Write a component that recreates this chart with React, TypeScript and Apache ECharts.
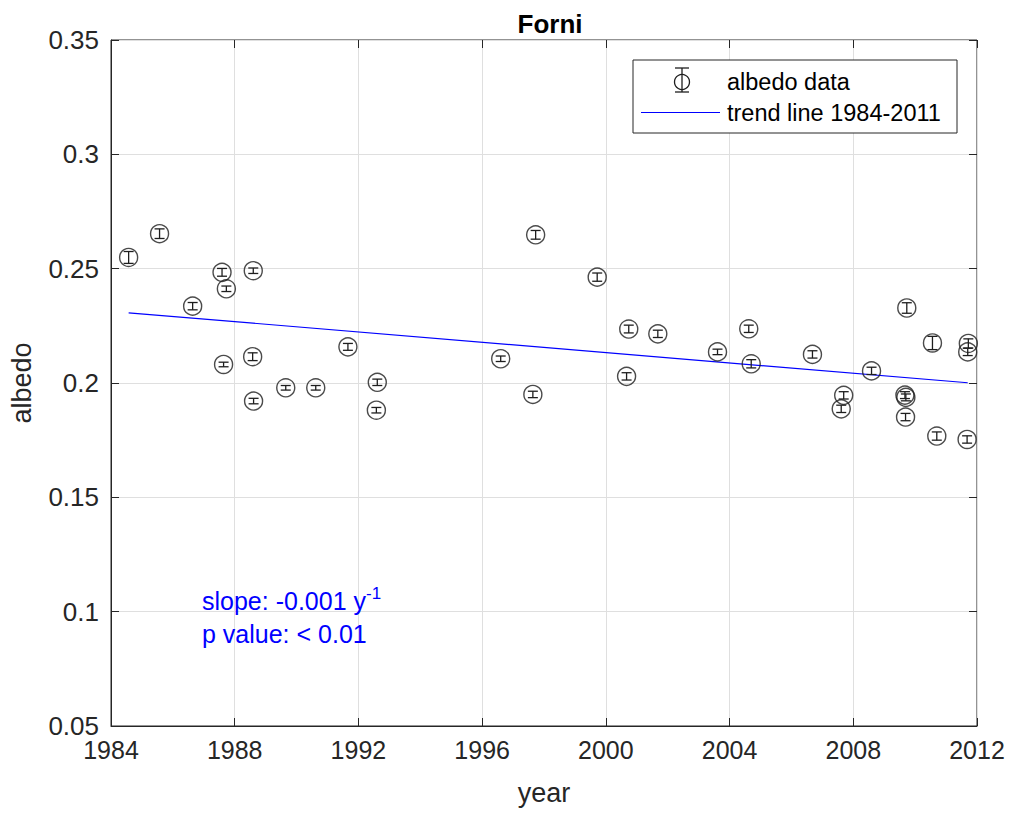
import React, { useEffect, useRef } from "react";
import * as echarts from "echarts";

// Albedo observations for the Forni glacier (decimal year, albedo, error half-width)
const years = [
  1984.57, 1985.57, 1986.64, 1987.59, 1987.73, 1988.6, 1987.64, 1988.58, 1988.61,
  1989.65, 1990.62, 1991.66, 1992.61, 1992.58, 1997.73, 1996.6, 1997.64, 1999.72,
  2000.74, 2000.67, 2001.68, 2003.61, 2004.62, 2004.7, 2006.68, 2007.69, 2007.61,
  2008.59, 2009.73, 2009.67, 2009.7, 2009.69, 2010.56, 2010.7, 2011.72, 2011.7, 2011.68,
];
const albedo = [
  0.2549, 0.2653, 0.2336, 0.2484, 0.2412, 0.2491, 0.2081, 0.2115, 0.1921,
  0.1979, 0.1979, 0.2158, 0.2003, 0.1881, 0.2648, 0.2106, 0.195, 0.2463,
  0.2236, 0.2029, 0.2215, 0.2136, 0.2237, 0.2084, 0.2125, 0.1946, 0.1887,
  0.2053, 0.2328, 0.1947, 0.1937, 0.1851, 0.2175, 0.1768, 0.2173, 0.2136, 0.1753,
];
const errors = [
  0.0026, 0.0021, 0.0016, 0.0017, 0.0012, 0.0012, 0.001, 0.0017, 0.0012,
  0.001, 0.001, 0.0015, 0.0014, 0.0012, 0.0019, 0.0012, 0.0014, 0.0018,
  0.0017, 0.0016, 0.0016, 0.0012, 0.0016, 0.0018, 0.0016, 0.0016, 0.0016,
  0.0016, 0.0023, 0.0015, 0.0015, 0.0016, 0.0029, 0.0018, 0.002, 0.0016, 0.0016,
];

// Linear trend 1984-2011 (end points)
const trendYears = [1984.57, 2011.7];
const trendValues = [0.2307, 0.2001];

const xTicks = { min: 1984, max: 2012, interval: 4 };
const yTicks = { min: 0.05, max: 0.35, interval: 0.05 };

const FONT = "'Liberation Sans', Arial, Helvetica, sans-serif";
const TEXT = "#262626";
const GRID = "#dfdfdf";
const MARK = "#1e1e1e";
const BLUE = "#0000ff";

export default function App() {
  const ref = useRef<HTMLDivElement>(null);

  useEffect(() => {
    document.body.style.margin = "0";
    if (!ref.current) return;
    const chart = echarts.init(ref.current, undefined, { renderer: "svg" });

    const points = years.map((y, i) => [y, albedo[i]]);
    const bars = years.map((y, i) => [y, albedo[i], errors[i]]);
    const trend = trendYears.map((y, i) => [y, trendValues[i]]);

    const hiddenAxis = {
      axisLabel: { show: false },
      splitLine: { show: false },
      axisLine: { show: false },
      axisTick: { show: true, inside: true, length: 8, lineStyle: { color: TEXT } },
    };

    chart.setOption({
      animation: false,
      title: {
        text: "Forni",
        left: 545,
        top: 6,
        textAlign: "center",
        textStyle: { fontFamily: FONT, fontSize: 26, fontWeight: "bold", color: "#000" },
      },
      grid: {
        left: 110,
        right: 34,
        top: 40,
        bottom: 88,
        show: true,
        borderColor: TEXT,
        borderWidth: 1,
        backgroundColor: "#fff",
      },
      xAxis: [
        {
          type: "value",
          ...xTicks,
          name: "year",
          nameLocation: "middle",
          nameGap: 53,
          nameTextStyle: { fontFamily: FONT, fontSize: 27, color: TEXT },
          axisLine: { show: true, lineStyle: { color: TEXT } },
          axisTick: { show: true, inside: true, length: 8, lineStyle: { color: TEXT } },
          axisLabel: {
            fontFamily: FONT,
            fontSize: 25,
            color: TEXT,
            margin: 11,
            formatter: (v: number) => String(v),
          },
          splitLine: { show: true, lineStyle: { color: GRID, width: 1 } },
        },
        { type: "value", ...xTicks, position: "top", ...hiddenAxis },
      ],
      yAxis: [
        {
          type: "value",
          ...yTicks,
          name: "albedo",
          nameLocation: "middle",
          nameGap: 76,
          nameTextStyle: { fontFamily: FONT, fontSize: 27, color: TEXT },
          axisLine: { show: true, lineStyle: { color: TEXT } },
          axisTick: { show: true, inside: true, length: 8, lineStyle: { color: TEXT } },
          axisLabel: {
            fontFamily: FONT,
            fontSize: 26,
            color: TEXT,
            margin: 12,
            formatter: (v: number) => String(+v.toFixed(2)),
          },
          splitLine: { show: true, lineStyle: { color: GRID, width: 1 } },
        },
        { type: "value", ...yTicks, position: "right", ...hiddenAxis },
      ],
      series: [
        {
          type: "line",
          data: trend,
          showSymbol: false,
          lineStyle: { color: BLUE, width: 1.2 },
          z: 3,
        },
        {
          type: "custom",
          data: bars,
          renderItem: (params: any, api: any) => {
            const x = api.value(0);
            const y = api.value(1);
            const e = api.value(2);
            const lo = api.coord([x, y - e]);
            const hi = api.coord([x, y + e]);
            const cap = 5;
            const style = { stroke: MARK, lineWidth: 1.3 };
            return {
              type: "group",
              children: [
                { type: "line", shape: { x1: lo[0], y1: lo[1], x2: hi[0], y2: hi[1] }, style },
                { type: "line", shape: { x1: lo[0] - cap, y1: lo[1], x2: lo[0] + cap, y2: lo[1] }, style },
                { type: "line", shape: { x1: hi[0] - cap, y1: hi[1], x2: hi[0] + cap, y2: hi[1] }, style },
              ],
            };
          },
          z: 4,
        },
        {
          type: "scatter",
          data: points,
          symbol: "circle",
          symbolSize: 18,
          itemStyle: { color: "rgba(0,0,0,0)", borderColor: MARK, borderWidth: 1.4 },
          z: 5,
        },
      ],
      graphic: [
        // legend box
        {
          type: "rect",
          shape: { x: 633, y: 60, width: 324, height: 73 },
          style: { fill: "#fff", stroke: TEXT, lineWidth: 1 },
          z: 20,
        },
        { type: "circle", shape: { cx: 682, cy: 82, r: 7.5 }, style: { fill: "none", stroke: MARK, lineWidth: 1.3 }, z: 21 },
        { type: "line", shape: { x1: 682, y1: 68, x2: 682, y2: 92 }, style: { stroke: MARK, lineWidth: 1.3 }, z: 21 },
        { type: "line", shape: { x1: 675, y1: 68, x2: 689, y2: 68 }, style: { stroke: MARK, lineWidth: 1.3 }, z: 21 },
        { type: "line", shape: { x1: 675, y1: 92, x2: 689, y2: 92 }, style: { stroke: MARK, lineWidth: 1.3 }, z: 21 },
        {
          type: "text",
          x: 727,
          y: 82,
          style: { text: "albedo data", fontFamily: FONT, fontSize: 23.5, fill: "#000", verticalAlign: "middle" },
          z: 21,
        },
        { type: "line", shape: { x1: 641, y1: 112.5, x2: 720, y2: 112.5 }, style: { stroke: BLUE, lineWidth: 1.2 }, z: 21 },
        {
          type: "text",
          x: 727,
          y: 113,
          style: { text: "trend line 1984-2011", fontFamily: FONT, fontSize: 23.5, fill: "#000", verticalAlign: "middle" },
          z: 21,
        },
        // regression annotation
        {
          type: "text",
          x: 202,
          y: 601,
          style: {
            text: "{a|slope: -0.001 y}{s|-1}",
            fill: BLUE,
            verticalAlign: "middle",
            rich: {
              a: { fontFamily: FONT, fontSize: 25, fill: BLUE },
              s: { fontFamily: FONT, fontSize: 17, fill: BLUE, verticalAlign: "top", padding: [0, 0, 16, 0] },
            },
          },
          z: 21,
        },
        {
          type: "text",
          x: 202,
          y: 634,
          style: { text: "p value: < 0.01", fontFamily: FONT, fontSize: 25, fill: BLUE, verticalAlign: "middle" },
          z: 21,
        },
      ],
    });

    return () => chart.dispose();
  }, []);

  return <div ref={ref} style={{ width: 1011, height: 814 }} />;
}
